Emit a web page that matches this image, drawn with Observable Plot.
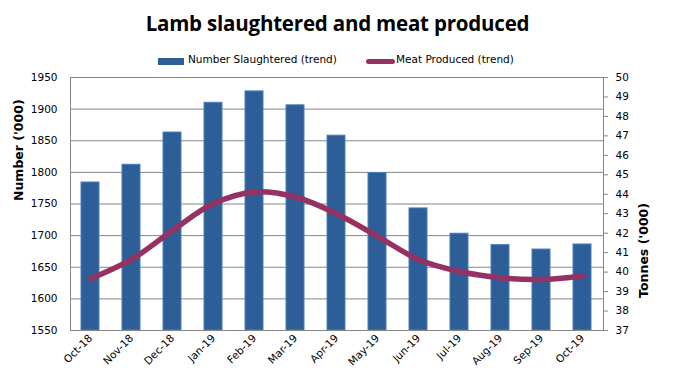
<!DOCTYPE html>
<html><head><meta charset="utf-8">
<script src="https://cdn.jsdelivr.net/npm/d3@7"></script>
<script src="https://cdn.jsdelivr.net/npm/@observablehq/plot@0.6"></script>
<style>
body{margin:0;background:#fff;}
#wrap{position:relative;width:675px;height:383px;overflow:hidden;font-family:"DejaVu Sans",sans-serif;}
#head{position:relative;height:70px;}
#title{position:absolute;left:0;width:675px;top:9px;text-align:center;font-family:"Open Sans",sans-serif;font-weight:bold;font-size:20.5px;color:#000;letter-spacing:-0.2px;}
.leg{position:absolute;top:53px;font-size:10.5px;color:#000;white-space:nowrap;}
.sw{position:absolute;}
svg{display:block;}
</style></head>
<body><div id="wrap">
<div id="head">
<div id="title">Lamb slaughtered and meat produced</div>
<div class="sw" style="left:158px;top:58px;width:26px;height:7px;background:#2E5E97;"></div>
<div class="leg" style="left:188px;">Number Slaughtered (trend)</div>
<div class="sw" style="left:366px;top:59px;width:29px;height:5px;border-radius:3px;background:#953163;"></div>
<div class="leg" style="left:396px;">Meat Produced (trend)</div>
</div>
<div id="chart"></div>
</div>
<script>
const months = ["Oct-18","Nov-18","Dec-18","Jan-19","Feb-19","Mar-19","Apr-19","May-19","Jun-19","Jul-19","Aug-19","Sep-19","Oct-19"];
const slaughtered = [1784, 1812, 1863, 1910, 1928, 1906, 1858, 1799, 1743, 1703, 1685, 1678, 1686];
const meat = [39.66, 40.65, 42.14, 43.52, 44.12, 43.86, 43.0, 41.84, 40.65, 40.03, 39.71, 39.62, 39.8];
const leftTicks = [1550, 1600, 1650, 1700, 1750, 1800, 1850, 1900, 1950];
const rightTicks = [37, 38, 39, 40, 41, 42, 43, 44, 45, 46, 47, 48, 49, 50];

const L0 = 1550, L1 = 1950, R0 = 37, R1 = 50;
const toLeft = t => L0 + (t - R0) * (L1 - L0) / (R1 - R0);
const toRight = v => R0 + (v - L0) * (R1 - R0) / (L1 - L0);

const rows = months.map((m, i) => ({month: m, n: slaughtered[i], t: meat[i]}));

const chart = Plot.plot({
  width: 675, height: 313,
  marginTop: 7, marginBottom: 53, marginLeft: 70, marginRight: 72,
  style: {fontFamily: "DejaVu Sans, sans-serif", fontSize: "10px", color: "#000", background: "#fff"},
  x: {domain: months, paddingInner: 0.55, paddingOuter: 0.275, axis: null},
  y: {domain: [L0, L1], axis: null},
  marks: [
    Plot.gridY(leftTicks, {stroke: "#868686", strokeOpacity: 1}),
    Plot.barY(rows, {x: "month", y1: L0, y2: "n", fill: "#2E5E97", stroke: "#4A7EBB", strokeWidth: 1}),
    Plot.line(rows, {x: "month", y: d => toLeft(d.t), curve: "catmull-rom", stroke: "#953163", strokeWidth: 5.5, strokeLinecap: "round", strokeLinejoin: "round"}),
    Plot.frame({stroke: "#868686"}),
    Plot.axisY({anchor: "left", ticks: leftTicks, tickFormat: d => String(d), tickSize: 0, tickPadding: 13, label: null, fontSize: 10.5}),
    Plot.axisY({anchor: "right", ticks: rightTicks.map(toLeft), tickFormat: v => String(Math.round(toRight(v))), tickSize: 4, tickPadding: 8, stroke: "#868686", label: null, fontSize: 10.5}),
    Plot.axisX({anchor: "bottom", tickSize: 0, tickPadding: 6, tickRotate: -45, label: null, fontSize: 10.5}),
    Plot.text(["Number ('000)"], {frameAnchor: "left", text: d => d, rotate: -90, dx: -52, dy: -3, fontWeight: "bold", fontSize: 12.5}),
    Plot.text(["Tonnes ('000)"], {frameAnchor: "right", text: d => d, rotate: -90, dx: 40, dy: -1, fontWeight: "bold", fontSize: 12.5})
  ]
});
document.getElementById("chart").appendChild(chart);
</script>
</body></html>
